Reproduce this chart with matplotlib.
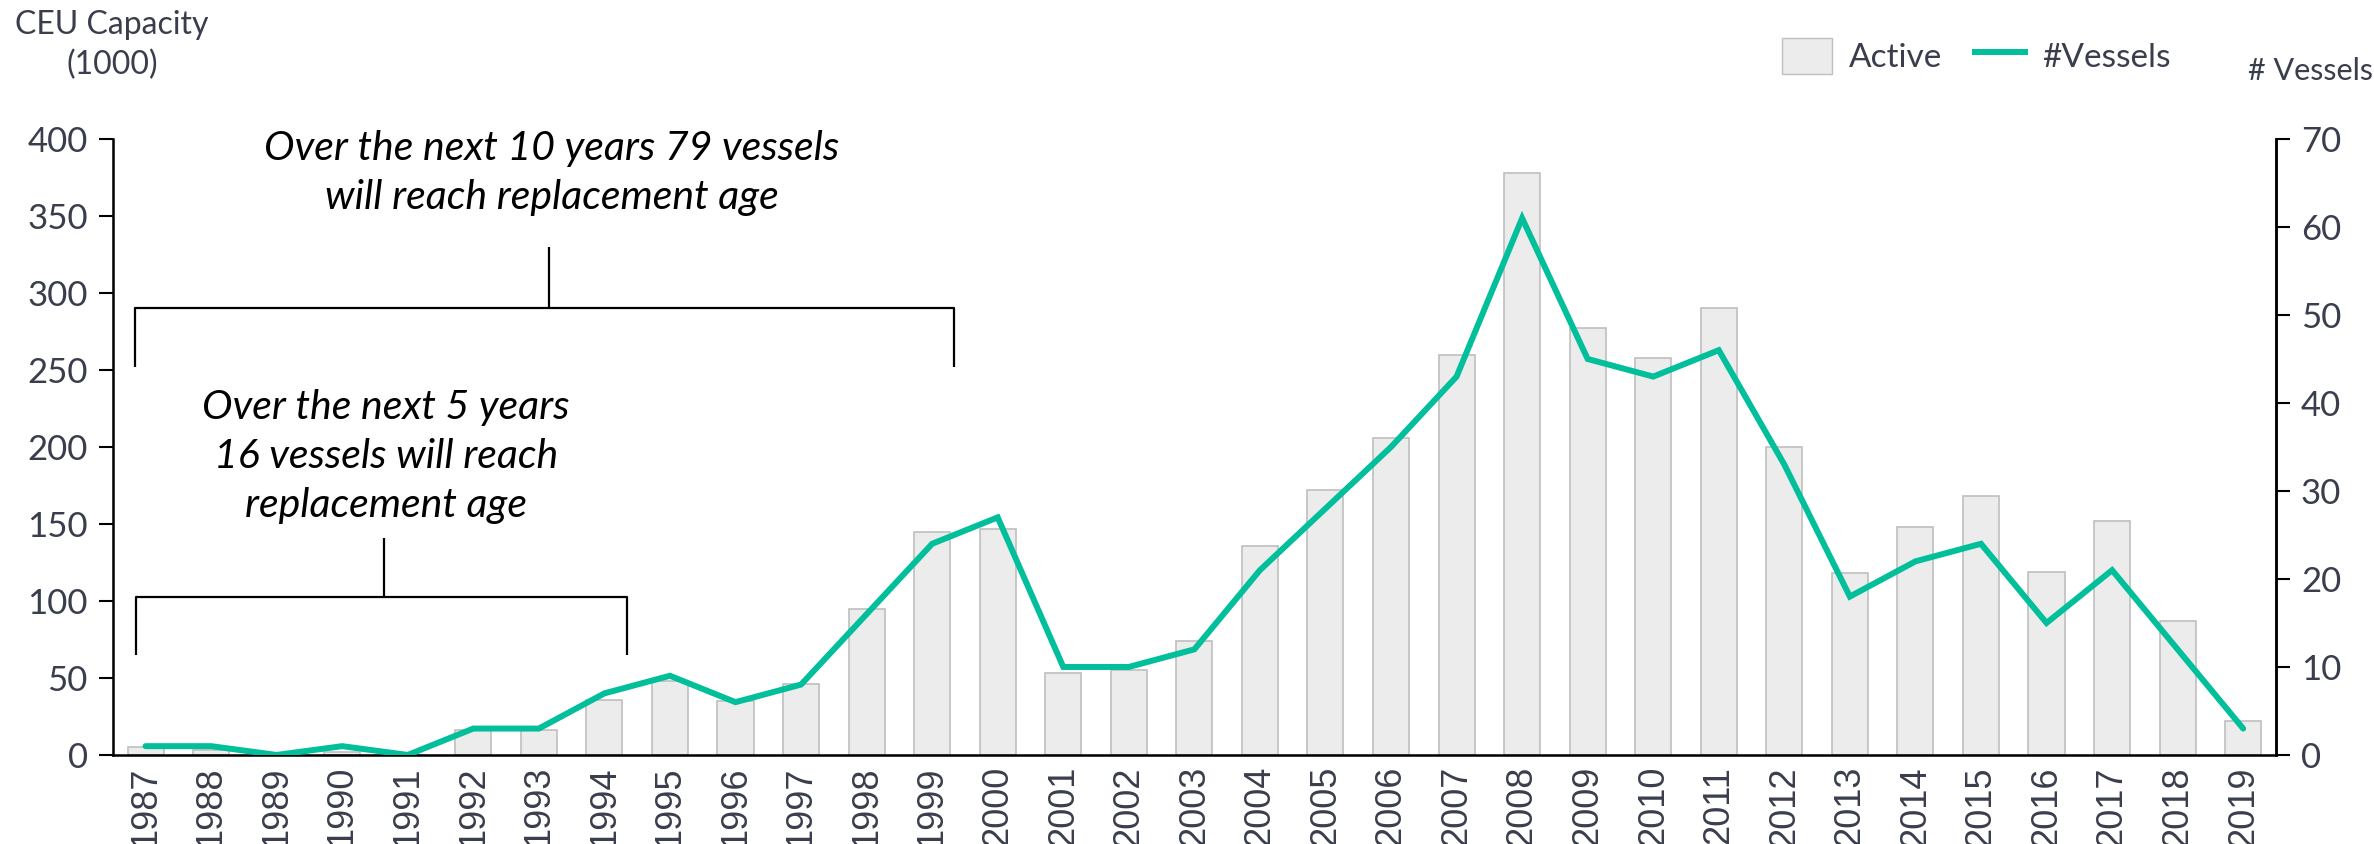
import numpy as np
import matplotlib
matplotlib.use("Agg")
import matplotlib.pyplot as plt
from matplotlib.patches import Patch
from matplotlib.lines import Line2D

# data
years = [str(y) for y in range(1987, 2020)]
capacity = [5, 3, 0, 2, 0, 16, 16, 36, 48, 35, 46, 95, 145, 147, 53, 55, 74, 136,
            172, 206, 260, 378, 277, 258, 290, 200, 118, 148, 168, 119, 152, 87, 22]
vessels = [1, 1, 0, 1, 0, 3, 3, 7, 9, 6, 8, 16, 24, 27, 10, 10, 12, 21,
           28, 35, 43, 61, 45, 43, 46, 33, 18, 22, 24, 15, 21, 12, 3]

left_ticks = [0, 50, 100, 150, 200, 250, 300, 350, 400]
right_ticks = [0, 10, 20, 30, 40, 50, 60, 70]

note_10 = "Over the next 10 years 79 vessels\nwill reach replacement age"
note_5 = "Over the next 5 years\n16 vessels will reach\nreplacement age"

BAR_FILL = "#ececec"
BAR_EDGE = "#bfbfbf"
TEAL = "#00bf9a"
TXT = "#3a3e4c"
UI_FONT = ["Lato", "DejaVu Sans"]

################################################
def makePlot():
    fig = plt.figure(figsize=(23.74, 8.44), dpi=100)
    ax = fig.add_axes([0.0475, 0.1055, 0.9112, 0.7298])
    x = np.arange(len(years))

    ax.bar(x, capacity, width=0.55, color=BAR_FILL, edgecolor=BAR_EDGE, linewidth=1.2, zorder=2)
    ax.set_xlim(-0.5, len(years) - 0.5)
    ax.set_ylim(0, 400)
    ax.set_yticks(left_ticks)
    ax.set_xticks(x)
    ax.set_xticklabels(years, rotation=90, fontsize=26, family="Liberation Sans", color=TXT)
    ax.tick_params(axis="x", length=0, pad=8)
    ax.tick_params(axis="y", length=10, width=1.5, labelsize=25, labelcolor=TXT, pad=8)
    for lab in ax.get_yticklabels():
        lab.set_family(UI_FONT)
    for s in ["left", "bottom", "right"]:
        ax.spines[s].set_linewidth(1.8)
    ax.spines["top"].set_visible(False)

    # vessel count line on the right axis
    ax2 = ax.twinx()
    ax2.plot(x, vessels, color=TEAL, linewidth=4.3, solid_capstyle="round", solid_joinstyle="miter", zorder=3)
    ax2.set_ylim(0, 70)
    ax2.set_yticks(right_ticks)
    ax2.tick_params(axis="y", length=10, width=1.5, labelsize=25, labelcolor=TXT, pad=8)
    for lab in ax2.get_yticklabels():
        lab.set_family(UI_FONT)
    ax2.spines["top"].set_visible(False)
    ax2.spines["right"].set_linewidth(1.8)

    # brackets (drawn in left-axis data coords)
    def bracket(x0, x1, xc, ybar, ydrop, ytop):
        kw = dict(color="black", linewidth=1.6, zorder=4, solid_capstyle="butt")
        ax.plot([x0, x0, x1, x1], [ydrop, ybar, ybar, ydrop], **kw)
        ax.plot([xc, xc], [ybar, ytop], **kw)

    bracket(-0.16, 12.33, 6.15, 290, 252, 330)
    bracket(-0.15, 7.34, 3.64, 102.7, 64.6, 141)

    ax.text(6.2, 378, note_10, ha="center", va="center", fontsize=29.5, style="italic",
            family=UI_FONT, color="black", linespacing=1.4)
    ax.text(3.67, 194, note_5, ha="center", va="center", fontsize=29.5, style="italic",
            family=UI_FONT, color="black", linespacing=1.4)

    # axis titles
    fig.text(112 / 2374, 1 - 45 / 844, "CEU Capacity\n(1000)", ha="center", va="center",
             fontsize=23, family=UI_FONT, color=TXT, linespacing=1.4)
    fig.text(2310 / 2374, 1 - 71 / 844, "# Vessels", ha="center", va="center",
             fontsize=22, family=UI_FONT, color=TXT)

    handles = [Patch(facecolor=BAR_FILL, edgecolor=BAR_EDGE, label="Active"),
               Line2D([0], [0], color=TEAL, linewidth=4.3, label="#Vessels")]
    leg = fig.legend(handles=handles, loc="center", bbox_to_anchor=(1976 / 2374, 1 - 56 / 844),
                     ncol=2, frameon=False, handlelength=1.5, handleheight=1.3,
                     columnspacing=1.0, handletextpad=0.5, prop={"family": UI_FONT, "size": 24})
    for t in leg.get_texts():
        t.set_color(TXT)

    fig.savefig("out.png", dpi=100)

################################################
if __name__ == '__main__':
    makePlot()
